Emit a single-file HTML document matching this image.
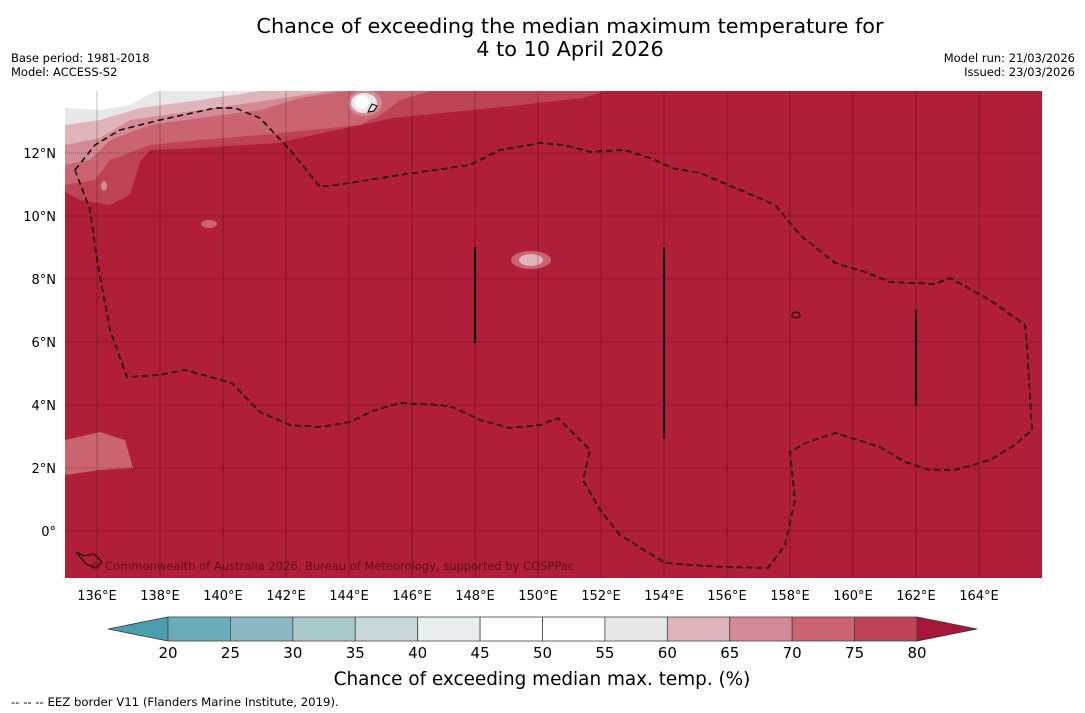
<!DOCTYPE html>
<html><head><meta charset="utf-8"><style>
body{margin:0;width:1085px;height:713px;background:#fff;font-family:"DejaVu Sans","Liberation Sans",sans-serif;overflow:hidden;position:relative}
.t{position:absolute;color:#000}
</style></head><body>
<div class="t" style="left:0;width:1140px;top:15px;text-align:center;font-size:20.8px;line-height:23px">Chance of exceeding the median maximum temperature for<br>4 to 10 April 2026</div>
<div class="t" style="left:11px;top:51px;font-size:11.5px;line-height:14px">Base period: 1981-2018<br>Model: ACCESS-S2</div>
<div class="t" style="right:10px;top:51px;font-size:11.5px;line-height:14px;text-align:right">Model run: 21/03/2026<br>Issued: 23/03/2026</div>
<svg id="map" width="1085" height="713" style="position:absolute;left:0;top:0">
<defs><clipPath id="c"><rect x="65" y="91" width="977" height="487"/></clipPath></defs>
<g clip-path="url(#c)">
<rect x="65" y="91" width="977" height="487" fill="#b01e3a"/>
<path d="M65,91 H605 L583,98 L493,108 L393,118 L327,132 L277,143 L200,148 L150,150 L140,162 L130,195 L110,205 L80,200 L65,192Z" fill="#be4356"/>
<path d="M65,91 H430 L400,100 L385,112 L360,125 L330,128 L260,135 L200,140 L150,145 L110,160 L95,180 L65,185Z" fill="#c96470"/>
<path d="M65,91 H345 L300,98 L260,110 L200,118 L150,125 L110,140 L90,160 L65,165Z" fill="#d48a94"/>
<path d="M65,91 H330 L270,100 L200,110 L130,120 L100,138 L65,145Z" fill="#dfb4ba"/>
<path d="M65,91 H260 L200,100 L140,108 L100,120 L65,125Z" fill="#e8e8e8"/>
<path d="M65,91 H155 L130,105 L100,110 L65,108Z" fill="#fff"/>
<path d="M65,440 L100,432 L125,440 L133,468 L100,470 L65,475Z" fill="#c96470"/>
<ellipse cx="104" cy="186" rx="3" ry="5" fill="#d48a94"/>
<ellipse cx="365" cy="103" rx="22" ry="17" fill="#c96470"/>
<ellipse cx="365" cy="103" rx="17" ry="13" fill="#d48a94"/>
<ellipse cx="364" cy="103" rx="13" ry="10" fill="#e8e8e8"/>
<ellipse cx="362" cy="102" rx="7" ry="7" fill="#fff"/>
<ellipse cx="531" cy="260" rx="20" ry="9" fill="#c96470"/>
<ellipse cx="531" cy="260" rx="12" ry="6" fill="#dfb4ba"/>
<ellipse cx="209" cy="224" rx="8" ry="4" fill="#c96470"/>
<g id="grid"></g>
<path d="M75,170 L95,145 L120,130 L160,120 L215,108 L235,108 L260,118 L290,150 L320,187 L350,183 L400,175 L470,165 L500,150 L540,143 L565,145 L590,152 L625,150 L650,158 L672,168 L700,173 L740,190 L775,205 L800,235 L835,263 L865,272 L890,282 L935,284 L950,278 L990,300 L1025,325 L1027,345 L1032,430 L1015,445 L990,460 L955,470 L930,470 L905,462 L880,447 L835,433 L808,442 L790,452 L795,500 L785,545 L768,568 L720,567 L665,563 L620,535 L600,510 L583,480 L590,450 L570,430 L558,418 L540,425 L510,428 L480,420 L455,408 L440,405 L400,403 L375,410 L350,422 L320,427 L290,425 L260,412 L250,402 L232,383 L185,370 L160,375 L127,377 L110,330 L97,260 L90,210 L75,170" fill="none" stroke="#000" stroke-width="1.5" stroke-dasharray="6,4"/>
<g stroke="#000" stroke-width="2">
<line x1="475" y1="247" x2="475" y2="343"/><line x1="664" y1="247" x2="664" y2="438"/><line x1="916" y1="310" x2="916" y2="406"/></g>
<path d="M368,112 l4,-8 l5,2 l-3,5 z" fill="none" stroke="#000"/>
<path d="M76,552 l8,4 l10,-2 l8,8 l-6,6 l-10,-4z" fill="none" stroke="#000"/>
<ellipse cx="796" cy="315" rx="4" ry="3" fill="none" stroke="#000"/>
<text x="90" y="570" font-size="11.5" fill="#5a1020">© Commonwealth of Australia 2026, Bureau of Meteorology, supported by COSPPac</text>
</g>
<g id="axes"></g>
<g id="cbar"></g>
<text x="542" y="685" text-anchor="middle" font-size="18.4">Chance of exceeding median max. temp. (%)</text>
<text x="11" y="706" font-size="11.7">--  --  -- EEZ border V11 (Flanders Marine Institute, 2019).</text>
</svg>
<script>
const lonTicks=[136,138,140,142,144,146,148,150,152,154,156,158,160,162,164];
const latTicks=[0,2,4,6,8,10,12];
const cbarEdges=[20,25,30,35,40,45,50,55,60,65,70,75,80];
const cbarColors=["#6aadba","#8bb9c3","#a9c9cd","#c8d8dc","#e8eef0","#ffffff","#ffffff","#e8e8e8","#dfb4ba","#d48a94","#c96470","#be4356"];
const NS="http://www.w3.org/2000/svg";
const xLon=l=>97+(l-136)*31.5, yLat=l=>531-l*31.5, xC=v=>168+(v-20)*(749/60);
function mk(t,a,p){const e=document.createElementNS(NS,t);for(const k in a)e.setAttribute(k,a[k]);p.appendChild(e);return e;}
const g=document.getElementById('grid'),ax=document.getElementById('axes'),cb=document.getElementById('cbar');
lonTicks.forEach(l=>{const e=mk('line',{x1:xLon(l),x2:xLon(l),y1:91,y2:578,stroke:'#000','stroke-opacity':0.3,'stroke-width':0.8},g);


const t=mk('text',{x:xLon(l),y:600,'text-anchor':'middle','font-size':13},ax);t.textContent=l+'°E';

});
latTicks.forEach(l=>{const e=mk('line',{x1:65,x2:1042,y1:yLat(l),y2:yLat(l),stroke:'#000','stroke-opacity':0.45,'stroke-width':0.8,'stroke-dasharray':'1,1'},g);


const t=mk('text',{x:56,y:yLat(l)+5,'text-anchor':'end','font-size':13},ax);t.textContent=l===0?'0°':l+'°N';

});
const lt=mk('path',{d:`M${xC(20)},617 L108,629 L${xC(20)},641Z`,fill:'#4a9fae',stroke:'#333','stroke-width':0.8},cb);


const rt=mk('path',{d:`M${xC(80)},617 L977,629 L${xC(80)},641Z`,fill:'#a8163a',stroke:'#333','stroke-width':0.8},cb);


cbarColors.forEach((c,i)=>{const r=mk('rect',{x:xC(cbarEdges[i]),y:617,width:xC(cbarEdges[i+1])-xC(cbarEdges[i]),height:24,fill:c,stroke:'#444','stroke-width':0.8},cb);

});
cbarEdges.forEach(v=>{const t=mk('text',{x:xC(v),y:658,'text-anchor':'middle','font-size':15},cb);t.textContent=v;

});
</script>
</body></html>
